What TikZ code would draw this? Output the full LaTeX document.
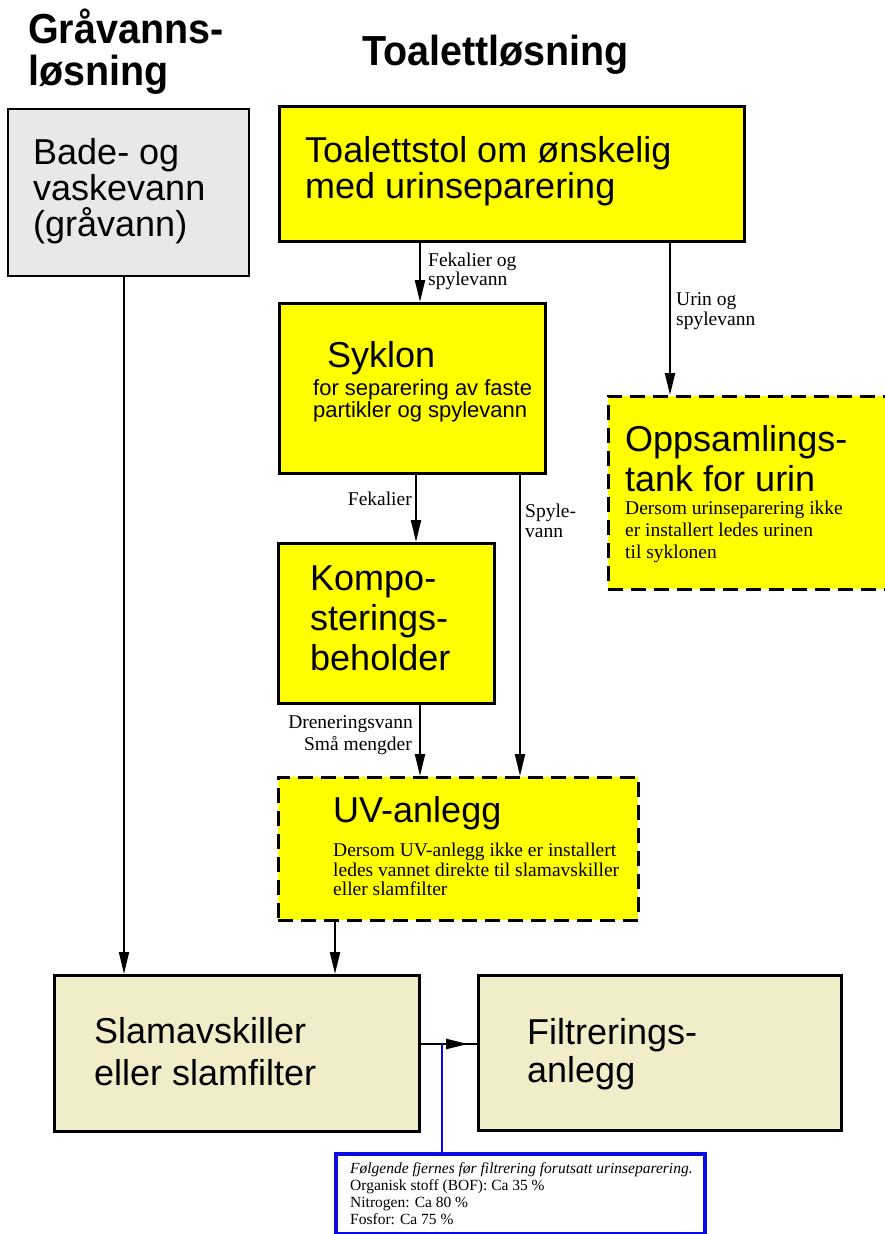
\documentclass[tikz,border=0pt]{standalone}
\usepackage{fontspec}
\setmainfont{Liberation Serif}
\newfontfamily\arial{Liberation Sans}
\usepackage{graphicx}
\usetikzlibrary{arrows.meta}
\definecolor{yel}{RGB}{255,255,0}
\definecolor{greyfill}{RGB}{232,232,232}
\definecolor{beige}{RGB}{242,237,201}
\definecolor{bluebox}{RGB}{10,10,230}
\begin{document}
\begin{tikzpicture}[x=1pt,y=1pt,
  box/.style={draw, line width=2.5pt, anchor=north west, inner sep=0pt},
  dbox/.style={box, dash pattern=on 15pt off 8pt},
  hdr/.style={anchor=base west, inner sep=0pt, font=\arial\bfseries\fontsize{42}{42}\selectfont},
  big/.style={anchor=base west, inner sep=0pt, font=\arial\fontsize{36}{36}\selectfont},
  mid/.style={anchor=base west, inner sep=0pt, font=\arial\fontsize{22}{22}\selectfont},
  small/.style={anchor=base west, inner sep=0pt, font=\fontsize{19.5}{19.5}\selectfont},
  smallr/.style={anchor=base east, inner sep=0pt, font=\fontsize{19.5}{19.5}\selectfont},
  tiny/.style={anchor=base west, inner sep=0pt, font=\fontsize{15.5}{15.5}\selectfont},
  arr/.style={line width=2.2pt, -{Triangle[length=22pt,width=10pt]}},
  plain/.style={line width=2.2pt}
]
\useasboundingbox (0,0) rectangle (884,-1234);

% headers
\node[hdr] (h1) at (28,-43) {\scalebox{0.94}[1]{Gråvanns-}};
\node[hdr] (h2) at (28,-85) {\scalebox{0.94}[1]{løsning}};
\node[hdr] (h3) at (362,-65) {\scalebox{0.94}[1]{Toalettløsning}};

% boxes
\node[box, line width=2pt, fill=greyfill, minimum width=241pt, minimum height=167pt] (grey) at (7,-108) {};
\node[box, fill=yel, minimum width=465pt, minimum height=135pt] (toal) at (278,-105) {};
\node[box, fill=yel, minimum width=266pt, minimum height=170pt] (syk) at (278,-302) {};
\node[dbox, fill=yel, minimum width=290pt, minimum height=193pt] (tank) at (607,-395) {};
\node[box, fill=yel, minimum width=216pt, minimum height=160pt] (komp) at (277,-542) {};
\node[dbox, fill=yel, minimum width=360pt, minimum height=143pt] (uv) at (277,-776) {};
\node[box, fill=beige, minimum width=365pt, minimum height=156pt] (slam) at (53,-974) {};
\node[box, fill=beige, minimum width=363pt, minimum height=155pt] (filt) at (477,-974) {};
\node[box, draw=bluebox, line width=4pt, fill=white, minimum width=369pt, minimum height=80pt] (blue) at (334,-1152) {};

% box texts
\node[big] (g1) at (33,-164) {Bade- og};
\node[big] (g2) at (33,-200) {vaskevann};
\node[big] (g3) at (33,-236) {(gråvann)};

\node[big] (t1) at (305,-162) {Toalettstol om ønskelig};
\node[big] (t2) at (305,-198) {med urinseparering};

\node[big] (s1) at (327,-367) {Syklon};
\node[mid] (s2) at (313,-395) {for separering av faste};
\node[mid] (s3) at (313,-417) {partikler og spylevann};

\node[big] (o1) at (625,-451) {Oppsamlings-};
\node[big] (o2) at (625,-491) {tank for urin};
\node[small] (o3) at (625,-514) {Dersom urinseparering ikke};
\node[small] (o4) at (625,-536) {er installert ledes urinen};
\node[small] (o5) at (625,-558) {til syklonen};

\node[big] (k1) at (310,-590) {Kompo-};
\node[big] (k2) at (310,-630) {sterings-};
\node[big] (k3) at (310,-670) {beholder};

\node[big] (u1) at (333,-822) {UV-anlegg};
\node[small] (u2) at (333,-856) {Dersom UV-anlegg ikke er installert};
\node[small] (u3) at (333,-876) {ledes vannet direkte til slamavskiller};
\node[small] (u4) at (333,-895) {eller slamfilter};

\node[big] (sl1) at (94,-1043) {Slamavskiller};
\node[big] (sl2) at (94,-1085) {eller slamfilter};

\node[big] (f1) at (527,-1044) {Filtrerings-};
\node[big] (f2) at (527,-1082) {anlegg};

\node[tiny] (b1) at (350,-1173) {\itshape Følgende fjernes før filtrering forutsatt urinseparering.};
\node[tiny] (b2) at (350,-1190) {Organisk stoff (BOF): Ca 35 \%};
\node[tiny] (b3) at (350,-1207) {Nitrogen: Ca 80 \%};
\node[tiny] (b4) at (350,-1224) {Fosfor: Ca 75 \%};

% connector positions
\coordinate (xg) at (124,0);
\coordinate (xa) at (420,0);
\coordinate (xb) at (670,0);
\coordinate (xc) at (416,0);
\coordinate (xd) at (520,0);
\coordinate (xf) at (335,0);
\coordinate (yh) at (0,-1044);
\coordinate (j) at (442,-1044);

% connectors
\draw[arr, line width=1.6pt] (grey.south -| xg) -- (slam.north -| xg);
\draw[arr] (toal.south -| xa) -- (syk.north -| xa);
\draw[arr] (toal.south -| xb) -- (tank.north -| xb);
\draw[arr] (syk.south -| xc) -- (komp.north -| xc);
\draw[arr] (syk.south -| xd) -- (uv.north -| xd);
\draw[arr] (komp.south -| xa) -- (uv.north -| xa);
\draw[arr] (uv.south -| xf) -- (slam.north -| xf);
\draw[plain] (slam.east |- yh) -- (filt.west |- yh);
\draw[arr, shorten >=9pt] (slam.east |- yh) -- (filt.west |- yh);
\draw[line width=2pt, draw=bluebox] (j) -- (blue.north -| j);

% connector labels
\node[small] (l1) at (428,-266) {Fekalier og};
\node[small] (l2) at (428,-285) {spylevann};
\node[small] (l3) at (676,-305) {Urin og};
\node[small] (l4) at (676,-325) {spylevann};
\node[smallr] (l5) at (412,-505) {Fekalier};
\node[small] (l6) at (525,-517) {Spyle-};
\node[small] (l7) at (525,-537) {vann};
\node[smallr] (l8) at (413,-728) {Dreneringsvann};
\node[smallr] (l9) at (412,-750) {Små mengder};
\end{tikzpicture}
\end{document}
